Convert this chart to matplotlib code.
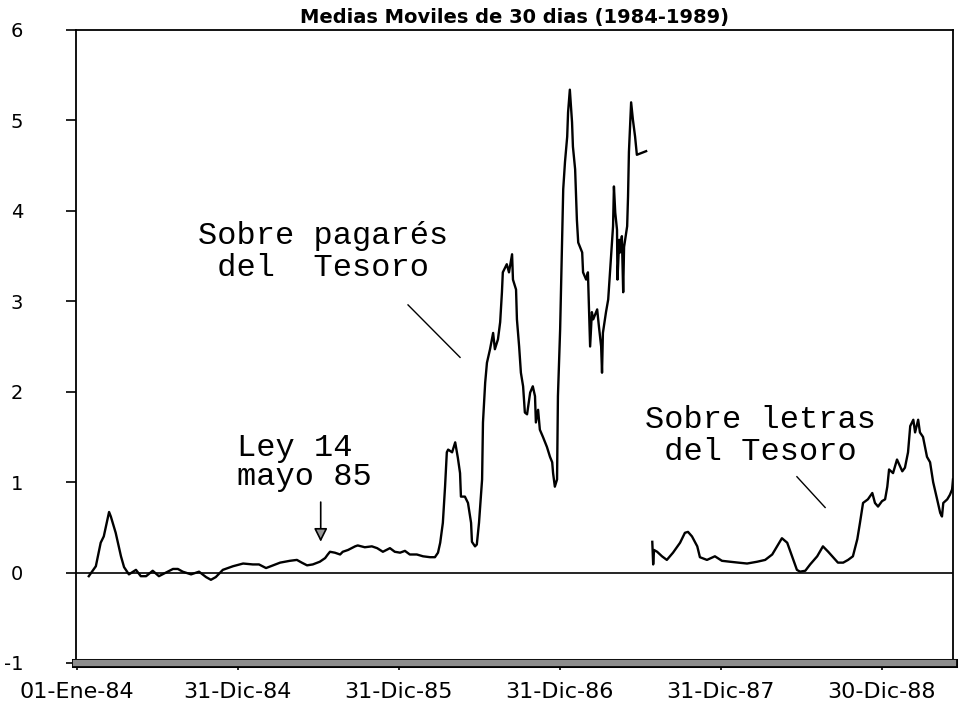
import matplotlib.pyplot as plt
import matplotlib.patheffects as pe
import numpy as np

##---------- datos: dias desde 01-Ene-84 y media movil de 30 dias ----------
dias_pagares = [27, 43, 54, 61, 73, 77, 88, 100, 107, 118, 134, 145, 157, 172, 186, 202,
                218, 229, 240, 259, 277, 293, 304, 315, 331, 354, 377, 399, 413, 429, 445,
                461, 483, 499, 510, 522, 535, 551, 563, 569, 574, 585, 597, 603, 615, 631,
                637, 653, 669, 681, 694, 710, 721, 733, 744, 755, 771, 785, 801, 812, 819,
                824, 830, 835, 839, 842, 851, 858, 864, 869, 871, 880, 887, 894, 896, 903,
                907, 912, 919, 921, 926, 930, 937, 944, 948, 955, 960, 964, 966, 975, 980,
                987, 989, 996, 998, 1003, 1007, 1012, 1016, 1021, 1028, 1034, 1039, 1041,
                1046, 1050, 1057, 1066, 1073, 1078, 1080, 1084, 1089, 1091, 1096, 1100,
                1103, 1107, 1112, 1114, 1118, 1123, 1125, 1130, 1134, 1137, 1146, 1148,
                1155, 1159, 1164, 1168, 1171, 1180, 1184, 1189, 1191, 1193, 1200, 1205,
                1211, 1216, 1218, 1221, 1225, 1226, 1230, 1232, 1236, 1239, 1241, 1248,
                1250, 1252, 1257, 1261, 1266, 1270, 1291]
pagares = [-0.04, 0.07, 0.33, 0.40, 0.67, 0.62, 0.44, 0.18, 0.06, -0.02, 0.03, -0.04, -0.04,
           0.02, -0.04, 0.00, 0.04, 0.04, 0.01, -0.02, 0.01, -0.05, -0.08, -0.05, 0.03, 0.07,
           0.10, 0.09, 0.09, 0.05, 0.08, 0.11, 0.13, 0.14, 0.11, 0.08, 0.09, 0.12, 0.16, 0.20,
           0.23, 0.22, 0.20, 0.23, 0.25, 0.29, 0.30, 0.28, 0.29, 0.27, 0.23, 0.27, 0.23, 0.22,
           0.24, 0.20, 0.20, 0.18, 0.17, 0.17, 0.22, 0.33, 0.55, 0.95, 1.33, 1.36, 1.33, 1.44,
           1.27, 1.10, 0.84, 0.84, 0.77, 0.55, 0.34, 0.29, 0.31, 0.55, 1.03, 1.66, 2.10, 2.32,
           2.47, 2.65, 2.47, 2.58, 2.77, 3.10, 3.32, 3.41, 3.32, 3.52, 3.24, 3.13, 2.80, 2.50,
           2.21, 2.06, 1.77, 1.75, 1.99, 2.06, 1.95, 1.66, 1.80, 1.58, 1.50, 1.39, 1.28, 1.22,
           1.10, 0.95, 1.03, 1.95, 2.69, 3.60, 4.24, 4.54, 4.82, 5.09, 5.34, 4.98, 4.71, 4.46,
           3.90, 3.65, 3.54, 3.32, 3.24, 3.32, 2.50, 2.88, 2.80, 2.91, 2.72, 2.50, 2.21, 2.65,
           2.88, 3.02, 3.46, 3.83, 4.27, 3.98, 3.79, 3.24, 3.68, 3.54, 3.72, 3.10, 3.60, 3.83,
           4.16, 4.65, 5.20, 5.01, 4.82, 4.62, 4.66]

dias_letras = [1305, 1307, 1309, 1316, 1327, 1338, 1352, 1368, 1379, 1386, 1395, 1407, 1413,
               1429, 1447, 1463, 1481, 1500, 1520, 1543, 1561, 1577, 1588, 1599, 1611, 1622,
               1633, 1640, 1652, 1663, 1679, 1692, 1704, 1715, 1726, 1738, 1749, 1760, 1770,
               1776, 1783, 1794, 1804, 1810, 1817, 1826, 1833, 1838, 1842, 1851, 1860, 1872,
               1878, 1885, 1890, 1897, 1901, 1908, 1912, 1919, 1928, 1935, 1942, 1951, 1958,
               1962, 1965, 1974, 1980, 1985, 1987]
letras = [0.34, 0.09, 0.25, 0.23, 0.18, 0.14, 0.22, 0.33, 0.44, 0.45, 0.40, 0.29, 0.17, 0.14,
          0.18, 0.13, 0.12, 0.11, 0.10, 0.12, 0.14, 0.20, 0.29, 0.38, 0.33, 0.18, 0.03, 0.01,
          0.02, 0.09, 0.18, 0.29, 0.23, 0.17, 0.11, 0.11, 0.14, 0.18, 0.37, 0.55, 0.77, 0.81,
          0.88, 0.77, 0.73, 0.79, 0.81, 0.95, 1.14, 1.10, 1.25, 1.12, 1.16, 1.33, 1.62, 1.69,
          1.55, 1.69, 1.55, 1.50, 1.28, 1.22, 1.00, 0.81, 0.66, 0.62, 0.77, 0.81, 0.86, 0.92,
          1.03]

dias_ticks = [0, 365, 730, 1095, 1460, 1825]
etiquetas = ['01-Ene-84', '31-Dic-84', '31-Dic-85', '31-Dic-86', '31-Dic-87', '30-Dic-88']

##---------- figura ----------
fig = plt.figure(figsize=(9.59, 7.07), dpi=100)
ax = fig.add_axes([76/959, 1-663/707, (953-76)/959, (663-30)/707])

ax.plot(dias_pagares, pagares, color='black', lw=1.7, zorder=4)
ax.plot(dias_letras, letras, color='black', lw=1.7, zorder=4)
ax.axhline(0, color='black', lw=1.2, zorder=3)
# banda gris del borde inferior
ax.axhline(-1, color='#8c8c8c', lw=4.5, clip_on=False, zorder=5,
           path_effects=[pe.Stroke(linewidth=6.5, foreground='black'), pe.Normal()])

ax.set_xlim(-2, 1987)
ax.set_ylim(-1, 6)
ax.set_yticks(range(-1, 7))
ax.set_yticklabels(['-1', '0', '1', '2', '3', '4', '5', '6'], fontsize=14)
ax.set_xticks(dias_ticks)
ax.set_xticklabels(etiquetas, fontsize=16)
ax.tick_params(axis='y', direction='out', length=7, width=1.2, pad=31)
ax.tick_params(axis='x', direction='out', length=5, width=1.2, pad=9)
for s in ax.spines.values():
    s.set_linewidth(1.3)

ax.set_title('Medias Moviles de 30 dias (1984-1989)', fontsize=14, fontweight='bold', pad=5)

##---------- anotaciones ----------
fuente = dict(family='Liberation Mono', fontsize=23, va='baseline', ha='left')
ax.text(274, 3.63, 'Sobre pagarés', **fuente)
ax.text(274, 3.28, ' del  Tesoro', **fuente)
ax.text(363, 1.29, 'Ley 14', **fuente)
ax.text(363, 0.97, 'mayo 85', **fuente)
ax.text(1288, 1.60, 'Sobre letras', **fuente)
ax.text(1288, 1.25, ' del Tesoro', **fuente)

ax.plot([751, 869], [2.96, 2.38], color='black', lw=1)
ax.plot([1633, 1697], [1.06, 0.72], color='black', lw=1)
ax.annotate('', xy=(553, 0.31), xytext=(553, 0.81),
            arrowprops=dict(arrowstyle='-|>', color='black', fc='0.6', lw=1.2,
                            mutation_scale=20))

plt.savefig('out.png', dpi=100)
